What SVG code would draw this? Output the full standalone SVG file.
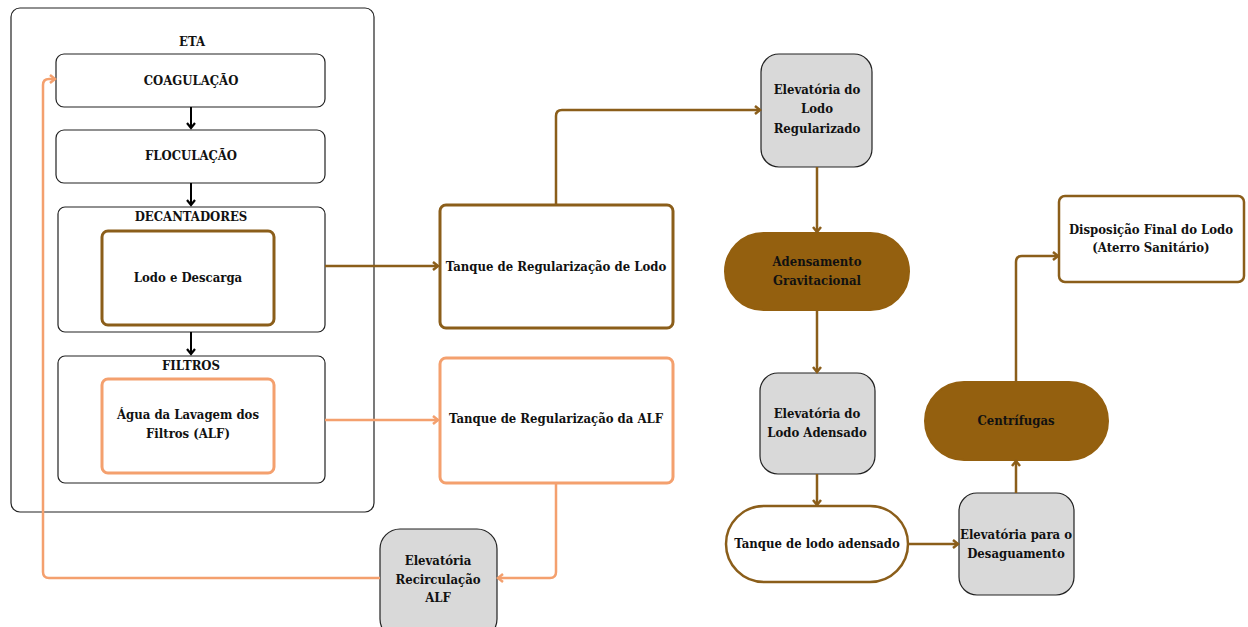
<svg xmlns="http://www.w3.org/2000/svg" width="1248" height="627" viewBox="0 0 1248 627">
<defs>
<style>
text{font-family:"DejaVu Serif Condensed","DejaVu Serif",serif;font-stretch:condensed;font-weight:bold;font-size:13px;fill:#111;text-anchor:middle}
.box{fill:#fff;stroke:#222;stroke-width:1.2}
.brn{fill:#fff;stroke:#8B5E1A;stroke-width:3}
.org{fill:#fff;stroke:#F4A06E;stroke-width:3}
.gray{fill:#D9D9D9;stroke:#222;stroke-width:1.2}
.sol{fill:#94600F;stroke:#94600F;stroke-width:2}
.cb{fill:none;stroke:#8B5E1A;stroke-width:2.5}
.co{fill:none;stroke:#F4A06E;stroke-width:2.5}
.ck{fill:none;stroke:#000;stroke-width:2}
</style>
<marker id="mb" markerWidth="10" markerHeight="10" refX="8" refY="5" orient="auto" markerUnits="userSpaceOnUse"><path d="M3,1 L8,5 L3,9" fill="none" stroke="#8B5E1A" stroke-width="2.5"/></marker>
<marker id="mo" markerWidth="10" markerHeight="10" refX="8" refY="5" orient="auto" markerUnits="userSpaceOnUse"><path d="M3,1 L8,5 L3,9" fill="none" stroke="#F4A06E" stroke-width="2.5"/></marker>
<marker id="mk" markerWidth="10" markerHeight="10" refX="8" refY="5" orient="auto" markerUnits="userSpaceOnUse"><path d="M3,1 L8,5 L3,9" fill="none" stroke="#000" stroke-width="2.2"/></marker>
</defs>
<rect width="1248" height="627" fill="#fff"/>
<g id="eta"><rect class="box" x="11" y="8" width="363" height="504" rx="9"/><text x="192" y="46">ETA</text></g>
<g id="coagulacao"><rect class="box" x="56" y="54" width="269" height="53" rx="8"/><text x="191" y="85">COAGULAÇÃO</text></g>
<g id="floculacao"><rect class="box" x="56" y="130" width="269" height="53" rx="8"/><text x="191" y="160">FLOCULAÇÃO</text></g>
<g id="decantadores"><rect class="box" x="58" y="207" width="267" height="125" rx="7"/><text x="191" y="221">DECANTADORES</text></g>
<g id="lodo-descarga"><rect class="brn" x="102" y="231" width="172" height="94" rx="6"/><text x="188" y="282">Lodo e Descarga</text></g>
<g id="filtros"><rect class="box" x="58" y="356" width="267" height="127" rx="7"/><text x="191" y="370">FILTROS</text></g>
<g id="agua-alf"><rect class="org" x="102" y="379" width="172" height="94" rx="6"/><text x="188" y="419">Água da Lavagem dos</text><text x="188" y="438">Filtros (ALF)</text></g>
<g id="tanque-lodo"><rect class="brn" x="440" y="205" width="233" height="123" rx="6"/><text x="556" y="271">Tanque de Regularização de Lodo</text></g>
<g id="tanque-alf"><rect class="org" x="440" y="358" width="233" height="125" rx="6"/><text x="556" y="423">Tanque de Regularização da ALF</text></g>
<g id="elev-recirc"><rect class="gray" x="380" y="529" width="117" height="110" rx="20"/><text x="438" y="565">Elevatória</text><text x="438" y="584">Recirculação</text><text x="438" y="602">ALF</text></g>
<g id="elev-regularizado"><rect class="gray" x="761" y="54" width="111" height="113" rx="18"/><text x="817" y="94">Elevatória do</text><text x="817" y="113">Lodo</text><text x="817" y="133">Regularizado</text></g>
<g id="adensamento"><rect class="sol" x="725" y="233" width="184" height="77" rx="38.5"/><text x="817" y="266">Adensamento</text><text x="817" y="285">Gravitacional</text></g>
<g id="elev-adensado"><rect class="gray" x="760" y="373" width="115" height="101" rx="18"/><text x="817" y="418">Elevatória do</text><text x="817" y="437">Lodo Adensado</text></g>
<g id="tanque-adensado"><rect class="brn" x="726" y="506" width="182" height="76" rx="38" style="stroke-width:2.5"/><text x="817" y="548">Tanque de lodo adensado</text></g>
<g id="elev-desaguamento"><rect class="gray" x="959" y="493" width="115" height="102" rx="18"/><text x="1016" y="539">Elevatória para o</text><text x="1016" y="558">Desaguamento</text></g>
<g id="centrifugas"><rect class="sol" x="925" y="382" width="183" height="78" rx="39"/><text x="1016" y="425">Centrífugas</text></g>
<g id="disposicao"><rect class="brn" x="1059" y="196" width="185" height="86" rx="6" style="stroke-width:2.5"/><text x="1151" y="234">Disposição Final do Lodo</text><text x="1151" y="252">(Aterro Sanitário)</text></g>
<g id="connectors">
<path class="ck" d="M191,107 V128" marker-end="url(#mk)"/>
<path class="ck" d="M191,183 V205" marker-end="url(#mk)"/>
<path class="ck" d="M191,332 V354" marker-end="url(#mk)"/>
<path class="cb" d="M325,266 H438" marker-end="url(#mb)"/>
<path class="cb" d="M556,205 V116 Q556,110 562,110 H760" marker-end="url(#mb)"/>
<path class="cb" d="M817,167 V232" marker-end="url(#mb)"/>
<path class="cb" d="M817,310 V372" marker-end="url(#mb)"/>
<path class="cb" d="M817,474 V505" marker-end="url(#mb)"/>
<path class="cb" d="M908,544 H958" marker-end="url(#mb)"/>
<path class="cb" d="M1016,493 V461" marker-end="url(#mb)"/>
<path class="cb" d="M1016,382 V262 Q1016,256 1022,256 H1058" marker-end="url(#mb)"/>
<path class="co" d="M325,420 H438" marker-end="url(#mo)"/>
<path class="co" d="M556,483 V572 Q556,578 550,578 H498" marker-end="url(#mo)"/>
<path class="co" d="M380,578 H49 Q43,578 43,572 V85 Q43,79 49,79 H55" marker-end="url(#mo)"/>
</g>
</svg>
